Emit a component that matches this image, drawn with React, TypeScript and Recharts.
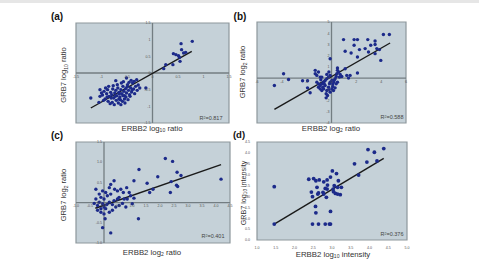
import React from 'react';
import { ScatterChart, Scatter, XAxis, YAxis, ReferenceLine, ReferenceArea, ReferenceDot, CartesianGrid } from 'recharts';

const W = 479;
const H = 262;

// ---------- data ----------
const pointsA: number[][] = [
  [0.78, 0.95], [0.56, 0.88], [0.57, 0.70], [0.41, 0.58], [0.46, 0.55], [0.51, 0.52], [0.65, 0.62], [0.61, 0.60],
  [0.54, 0.35], [0.40, 0.25], [0.26, 0.25], [0.22, 0.13], [0.53, 0.47],
  [-0.13, -0.45], [-1.21, -0.75], [-1.03, -0.70], [-1.03, -0.50], [-0.72, -0.23], [-0.51, -0.15],
  [-0.95, -0.55], [-0.90, -0.62], [-0.88, -0.50], [-0.85, -0.70], [-0.82, -0.58], [-0.80, -0.65], [-0.78, -0.48],
  [-0.76, -0.75], [-0.74, -0.60], [-0.72, -0.52], [-0.70, -0.68], [-0.68, -0.45], [-0.66, -0.58], [-0.64, -0.72],
  [-0.62, -0.50], [-0.60, -0.62], [-0.58, -0.40], [-0.56, -0.55], [-0.55, -0.68], [-0.53, -0.47], [-0.51, -0.60],
  [-0.49, -0.35], [-0.47, -0.52], [-0.45, -0.65], [-0.43, -0.44], [-0.41, -0.57], [-0.39, -0.30], [-0.37, -0.48],
  [-0.35, -0.62], [-0.33, -0.40], [-0.30, -0.52], [-0.28, -0.36], [-0.25, -0.45], [-0.98, -0.66], [-0.93, -0.78],
  [-0.87, -0.85], [-0.83, -0.92], [-0.79, -0.88], [-0.75, -0.95], [-0.71, -0.82], [-0.67, -0.90], [-0.63, -0.80],
  [-0.59, -0.85], [-0.55, -0.78], [-0.52, -0.72], [-0.48, -0.80], [-0.44, -0.70], [-1.00, -0.60], [-0.92, -0.45],
  [-0.86, -0.40], [-0.77, -0.38], [-0.69, -0.35], [-0.61, -0.30], [-0.57, -0.26], [-0.46, -0.28], [-0.42, -0.22],
  [-0.36, -0.25], [-0.31, -0.20], [-0.65, -0.62], [-0.73, -0.70], [-0.81, -0.75], [-0.89, -0.72], [-0.96, -0.82],
  [-1.05, -0.88], [-0.50, -0.42], [-0.40, -0.50], [-0.58, -0.68], [-0.66, -0.78], [-0.54, -0.90], [-0.62, -0.95],
];
const fitA: number[][] = [[-1.21, -1.05], [0.77, 0.65]];

const pointsB: number[][] = [
  [-4.6, -0.66], [-3.86, 0.39], [-3.46, -0.12], [-2.33, -0.24], [-1.93, -0.24], [-1.93, -0.87], [-1.72, -1.31],
  [-1.31, 0.69], [-0.11, 1.73], [0.48, 0.9], [0.97, 3.43], [1.1, 2.39], [1.58, 2.24], [1.82, 3.43], [2.09, 3.43],
  [1.82, 2.93], [2.25, 2.54], [2.09, 1.88], [2.09, 0.45], [2.71, 2.63], [2.92, 3.43], [2.98, 2.33], [3.16, 2.93],
  [3.51, 3.31], [3.51, 2.99], [3.65, 2.63], [3.51, 2.18], [3.97, 1.58], [4.18, 3.88], [4.66, 3.88], [3.86, 2.54],
  [1.23, 0.24], [1.37, 0], [1.5, 0.24], [1.1, 0.84],
  [-1.31, 0.39], [-1.18, 0.24], [-1.05, 0.54], [-0.91, 0.09], [-1.05, -0.81], [-0.91, -0.96], [-0.78, -1.10],
  [-0.64, -0.96], [-0.51, -0.66], [-0.43, -1.40], [-0.38, -1.10], [-0.24, -0.81], [-0.16, -0.51], [-0.11, -0.36],
  [0.03, -0.21], [0.11, -0.51], [0.16, -0.36], [0.21, -0.21], [0.29, -0.06], [0.38, 0.15], [0.43, 0.39], [0.56, 0.54],
  [0.70, 0.33], [0.83, 0.15], [-0.11, 0.24], [-0.24, 0.09], [-0.38, -0.06], [-0.51, -0.21], [-0.64, -0.36],
  [-0.78, -0.51], [-0.91, -0.66], [0.03, -0.96], [0.16, -1.10], [-0.11, -1.25], [-0.32, -1.55], [-0.43, -1.76],
  [-0.70, -0.81], [-0.59, -0.51], [-1.18, -0.36], [-1.05, -0.51], [-0.78, 0.09], [-0.38, 0.33], [0.38, -0.51],
  [0.48, 0.69], [0.64, 0.09], [-0.21, 0.54], [0.11, -0.75], [0.29, -0.87], [0.48, -0.36], [-0.86, -0.15], [-0.21, -1.04],
];
const fitB: number[][] = [[-4.6, -2.78], [4.72, 3.13]];

const pointsC: number[][] = [
  [2.19, 1.09], [2.45, 1.02], [2.61, 0.75], [2.75, 0.67], [1.92, 0.64], [1.25, 0.82], [1.07, 0.54], [1.54, 0.48],
  [1.63, 0.25], [1.75, 0.33], [2.37, 0.25], [2.4, 0.52], [2.59, 0.43], [2.63, 0.40], [4.18, 0.58], [1.23, -0.40],
  [-0.05, -0.62], [0.24, -0.75], [0.04, -0.40], [-0.29, 0.33], [-0.05, 0.29], [-0.17, 0.21], [0.19, 0.37],
  [0.24, 0.45], [0.36, 0.54], [0.38, 0.33], [0.48, 0.29], [0.6, 0.33], [0.69, 0.25], [0.81, 0.37], [0.9, 0.25],
  [0.95, 0.17], [0.83, 0.09], [0.54, 0.13], [0.36, 0.05], [0.19, 0.01], [0.1, -0.05], [0, -0.11], [-0.11, -0.15],
  [-0.23, -0.07], [-0.35, -0.02], [-0.29, 0.09], [-0.17, 0.01], [-0.05, -0.03], [0.06, -0.15], [0.19, -0.24],
  [0.3, -0.19], [0.42, -0.11], [0.54, -0.07], [0.66, -0.02], [0.78, -0.11], [1.01, -0.03], [0, -0.28], [-0.11, -0.24],
  [-0.23, -0.19], [0.12, 0.17], [0.24, 0.21], [0, 0.09], [-0.11, 0.13], [0.06, 0.25], [0.48, 0.09], [0.3, -0.05],
  [0.72, 0.09], [1.07, 0.11],
];
const fitC: number[][] = [[-0.31, -0.14], [4.18, 0.94]];

const pointsD: number[][] = [
  [1.46, 0.73], [1.46, 2.45], [2.48, 0.73], [2.64, 0.73], [2.82, 0.73], [2.93, 0.73], [2.96, 0.73], [2.57, 1.25],
  [2.56, 1.54], [2.96, 1.31], [2.85, 1.96], [3.22, 2.08], [2.38, 2.79], [2.51, 2.82], [2.57, 2.72], [2.66, 2.76],
  [2.45, 2.20], [2.48, 1.99], [2.6, 2.42], [2.62, 2.11], [2.64, 2.16], [2.78, 2.67], [2.82, 2.37], [2.87, 2.76],
  [2.88, 2.52], [2.87, 2.34], [2.76, 2.19], [2.78, 2.11], [2.96, 2.89], [3.01, 3.17], [3.03, 2.34], [3.04, 2.22],
  [3.06, 2.49], [3.09, 2.14], [3.15, 2.11], [3.15, 2.42], [3.12, 3.05], [3.17, 2.72], [3.25, 2.42], [3.6, 3.50],
  [3.71, 2.98], [3.93, 3.58], [3.96, 4.15], [4.13, 4.03], [4.2, 3.63], [4.38, 4.2],
];
const fitD: number[][] = [[1.46, 0.73], [4.38, 3.75]];

const ticksA = [-1.5, -1, -0.5, 0, 0.5, 1, 1.5];
const ticksBx = [-6, -4, -2, 0, 2, 4, 6];
const ticksBy = [-4, -3, -2, -1, 0, 1, 2, 3, 4, 5];
const ticksCx = [-1.0, -0.5, 0.0, 0.5, 1.0, 1.5, 2.0, 2.5, 3.0, 3.5, 4.0, 4.5];
const ticksCy = [-1.0, -0.5, 0.0, 0.5, 1.0, 1.5];
const ticksDx = [1.0, 1.5, 2.0, 2.5, 3.0, 3.5, 4.0, 4.5, 5.0];
const ticksDy = [0.0, 0.5, 1.0, 1.5, 2.0, 2.5, 3.0, 3.5, 4.0, 4.5];

const r2Labels = ['0.817', '0.588', '0.401', '0.376'];

// ---------- styles ----------
const BG = '#c5d1d8';
const BORDER = '#8d979c';
const AXIS = '#737d82';
const DOT = '#1c2a8a';
const TICK = '#555';
const FONT = '"Liberation Sans", Arial, sans-serif';

type Box = { l: number; t: number; r: number; b: number };

const dotShape = (rad: number) => (p: any) => <circle cx={p.cx} cy={p.cy} r={rad} fill={DOT} />;

function Panel(props: {
  box: Box; xDomain: number[]; yDomain: number[]; xTicks: number[]; yTicks: number[];
  points: number[][]; fit: number[][]; center: boolean; fmt: (v: number) => string; rad: number;
}) {
  const { box, xDomain, yDomain, xTicks, yTicks, points, fit, center, fmt, rad } = props;
  const data = points.map(([x, y]) => ({ x, y }));
  const axH = center ? 0 : 8;
  const axW = center ? 0 : 11;
  const margin = { left: box.l - axW, top: box.t, right: W - box.r, bottom: H - box.b - axH };
  return (
    <div style={{ position: 'absolute', left: 0, top: 0 }}>
      <ScatterChart width={W} height={H} margin={margin}>
        <CartesianGrid fill={BG} horizontal={false} vertical={false} stroke="none" />
        <XAxis type="number" dataKey="x" domain={xDomain} ticks={xTicks} hide={center} height={axH}
          axisLine={false} tickLine={false} interval={0} allowDataOverflow
          tick={{ fontSize: 3.6, fill: TICK, fontFamily: FONT }} tickFormatter={fmt} tickMargin={0} />
        <YAxis type="number" dataKey="y" domain={yDomain} ticks={yTicks} hide={center} width={axW}
          axisLine={false} tickLine={false} interval={0} allowDataOverflow
          tick={{ fontSize: 3.6, fill: TICK, fontFamily: FONT }} tickFormatter={fmt} tickMargin={1} />
        {center && <ReferenceLine x={0} stroke={AXIS} strokeWidth={1.3} />}
        {center && <ReferenceLine y={0} stroke={AXIS} strokeWidth={1.3} />}
        {center && xTicks.map((t) => (
          <ReferenceDot key={'xt' + t} x={t} y={0} r={0} stroke="none" fill="none"
            label={{ value: fmt(t), position: 'bottom', offset: 2, fontSize: 3.6, fill: TICK, fontFamily: FONT }} />
        ))}
        {center && yTicks.map((t) => (
          <ReferenceDot key={'yt' + t} x={0} y={t} r={0} stroke="none" fill="none"
            label={{ value: fmt(t), position: 'left', offset: 2, fontSize: 3.6, fill: TICK, fontFamily: FONT }} />
        ))}
        <Scatter data={data} isAnimationActive={false} shape={dotShape(rad)} />
        <ReferenceLine segment={[{ x: fit[0][0], y: fit[0][1] }, { x: fit[1][0], y: fit[1][1] }]}
          stroke="#1a1a1a" strokeWidth={1.4} />
        <ReferenceArea x1={xDomain[0]} x2={xDomain[1]} y1={yDomain[0]} y2={yDomain[1]}
          fill="none" fillOpacity={0} stroke={BORDER} strokeWidth={1.2} />
      </ScatterChart>
    </div>
  );
}

function Txt(props: { x: number; y: number; rot?: boolean; size: number; bold?: boolean; color?: string; children: React.ReactNode }) {
  const { x, y, rot, size, bold, color, children } = props;
  return (
    <div style={{
      position: 'absolute', left: x, top: y,
      transform: `translate(-50%, -50%)${rot ? ' rotate(-90deg)' : ''}`,
      fontSize: size, fontWeight: bold ? 700 : 400, whiteSpace: 'nowrap',
      fontFamily: FONT, color: color || '#333', lineHeight: 1,
    }}>{children}</div>
  );
}

const sub = (s: string) => <sub style={{ fontSize: '0.65em', verticalAlign: '-0.25em' }}>{s}</sub>;
const sup = (s: string) => <sup style={{ fontSize: '0.65em', verticalAlign: '0.45em' }}>{s}</sup>;

const fmtPlain = (v: number) => String(v);
const fmtOne = (v: number) => v.toFixed(1);

export default function App() {
  return (
    <div style={{ position: 'absolute', left: 0, top: 0, width: W, height: H, background: '#fff', overflow: 'hidden' }}>
      <div style={{ position: 'absolute', left: 0, top: 0, width: W, height: 3, background: '#e6e6e6' }} />
      <Panel box={{ l: 76, t: 23, r: 229, b: 123 }} xDomain={[-1.5, 1.5]} yDomain={[-1.5, 1.5]}
        xTicks={ticksA} yTicks={ticksA} points={pointsA} fit={fitA} center fmt={fmtPlain} rad={1.7} />
      <Panel box={{ l: 257, t: 22, r: 406, b: 123 }} xDomain={[-6, 6]} yDomain={[-4, 5]}
        xTicks={ticksBx} yTicks={ticksBy} points={pointsB} fit={fitB} center fmt={fmtPlain} rad={1.7} />
      <Panel box={{ l: 76, t: 142, r: 230, b: 243 }} xDomain={[-1, 4.5]} yDomain={[-1, 1.5]}
        xTicks={ticksCx} yTicks={ticksCy} points={pointsC} fit={fitC} center fmt={fmtOne} rad={1.7} />
      <Panel box={{ l: 257, t: 142, r: 407, b: 240 }} xDomain={[1, 5]} yDomain={[0, 4.5]}
        xTicks={ticksDx} yTicks={ticksDy} points={pointsD} fit={fitD} center={false} fmt={fmtOne} rad={1.9} />

      <Txt x={57} y={17} size={10} bold color="#111">(a)</Txt>
      <Txt x={240} y={17} size={10} bold color="#111">(b)</Txt>
      <Txt x={57} y={136} size={10} bold color="#111">(c)</Txt>
      <Txt x={239} y={135} size={9.5} bold color="#111">(d)</Txt>

      <Txt x={65} y={75} rot size={7.6}>GRB7 log{sub('10')} ratio</Txt>
      <Txt x={244} y={72} rot size={7.6}>GRB7 log{sub('2')} ratio</Txt>
      <Txt x={65} y={195} rot size={7.6}>GRB7 log{sub('2')} ratio</Txt>
      <Txt x={244} y={193} rot size={7.2}>GRB7 log{sub('10')} intensity</Txt>

      <Txt x={152} y={129} size={7.8}>ERBB2 log{sub('10')} ratio</Txt>
      <Txt x={331} y={129} size={7.8}>ERBB2 log{sub('2')} ratio</Txt>
      <Txt x={152} y={253} size={7.8}>ERBB2 log{sub('2')} ratio</Txt>
      <Txt x={333} y={255} size={7.8}>ERBB2 log{sub('10')} intensity</Txt>

      <Txt x={211} y={119} size={5.5} color="#444">R{sup('2')}={r2Labels[0]}</Txt>
      <Txt x={392} y={118} size={5.5} color="#444">R{sup('2')}={r2Labels[1]}</Txt>
      <Txt x={213} y={237} size={5.5} color="#444">R{sup('2')}={r2Labels[2]}</Txt>
      <Txt x={392} y={235} size={5.5} color="#444">R{sup('2')}={r2Labels[3]}</Txt>
    </div>
  );
}
